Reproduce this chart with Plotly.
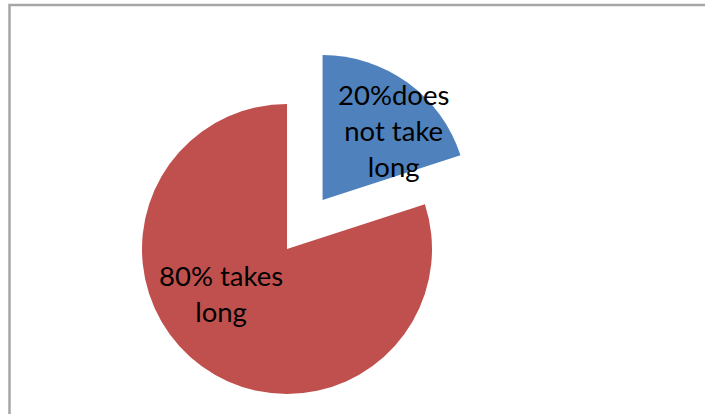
import math
import plotly.graph_objects as go

# Survey answer: does the task take long?
categories = ["does not take long", "takes long"]
shares = [20, 80]  # percent
label_templates = ["{v}%does<br>not take<br>long", "{v}% takes<br>long"]

BLUE = "#4F81BD"
RED = "#C0504D"
CLEAR = "rgba(0,0,0,0)"

W, H = 705, 414
RADIUS = 145.0          # px
CENTER = (287.0, 249.0)  # px, centre of the un-exploded pie
PULL = 0.417             # exploded slice offset, as a fraction of the radius


def domain_for(cx, cy, r):
    return dict(x=[(cx - r) / W, (cx + r) / W],
                y=[1 - (cy + r) / H, 1 - (cy - r) / H])


# direction in which the first slice is exploded (mid-angle of that slice,
# measured clockwise from 12 o'clock)
total = sum(shares)
mid_angle = math.radians(360.0 * shares[0] / total / 2.0)
off = PULL * RADIUS
blue_center = (CENTER[0] + off * math.sin(mid_angle),
               CENTER[1] - off * math.cos(mid_angle))

common = dict(labels=categories, values=shares, sort=False,
              direction="clockwise", rotation=0, textinfo="none",
              hoverinfo="label+percent", showlegend=False,
              marker_line_width=0)

fig = go.Figure()
# main body: the remaining slice(s) stay in place
fig.add_trace(go.Pie(**common, marker_colors=[CLEAR, RED],
                     domain=domain_for(CENTER[0], CENTER[1], RADIUS)))
# exploded slice
fig.add_trace(go.Pie(**common, marker_colors=[BLUE, CLEAR],
                     domain=domain_for(blue_center[0], blue_center[1], RADIUS)))

# data labels
label_pos = [(393.0, 130.0), (221.0, 293.0)]
annotations = []
for v, tpl, (lx, ly) in zip(shares, label_templates, label_pos):
    annotations.append(dict(
        text=tpl.format(v=v), x=lx / W, y=1 - ly / H, xref="paper", yref="paper",
        xanchor="center", yanchor="middle", showarrow=False, align="center",
        font=dict(family="Lato", size=27.5, color="#000000")))

# chart-area frame
frame = dict(type="path", xref="paper", yref="paper",
             path=f"M {9.5 / W} 0 L {9.5 / W} {1 - 5 / H} L 1 {1 - 5 / H}",
             line=dict(color="#A6A6A6", width=2.5))

fig.update_layout(width=W, height=H, margin=dict(l=0, r=0, t=0, b=0),
                  paper_bgcolor="white", plot_bgcolor="white",
                  annotations=annotations, shapes=[frame])

fig.write_html("out.html")
